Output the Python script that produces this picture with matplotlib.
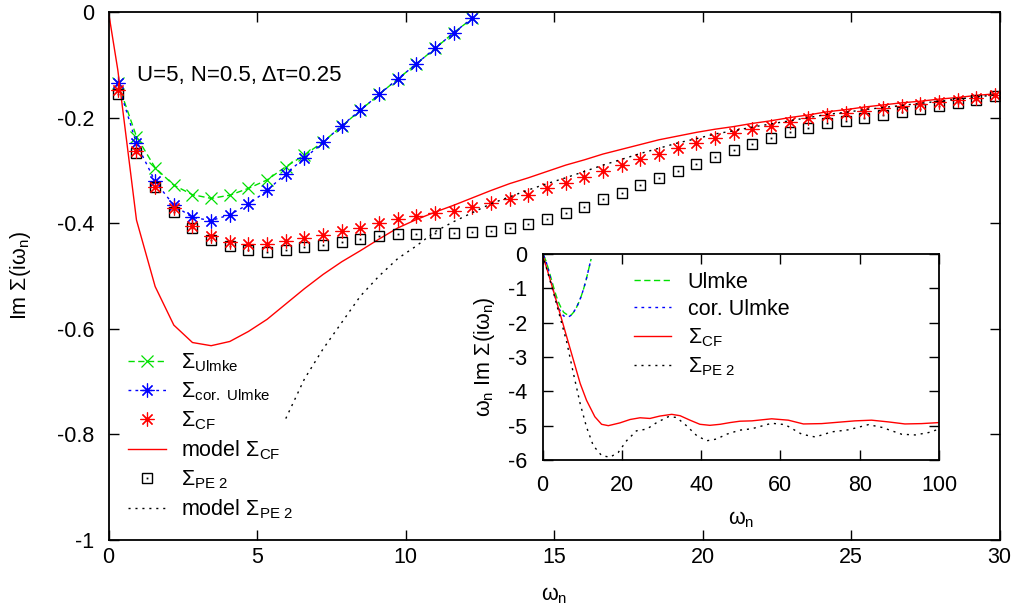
import matplotlib
matplotlib.use("Agg")
import numpy as np
import matplotlib.pyplot as plt
from matplotlib.legend_handler import HandlerTuple

plt.rcParams["font.family"] = ["Liberation Sans", "DejaVu Sans"]
plt.rcParams["mathtext.fontset"] = "custom"
plt.rcParams["mathtext.rm"] = "Liberation Sans"
plt.rcParams["mathtext.it"] = "Liberation Sans:italic"
plt.rcParams["mathtext.bf"] = "Liberation Sans:bold"
plt.rcParams["axes.unicode_minus"] = False

# ── Data ─────────────────────────────────────────────────────────────────────
# Matsubara frequencies, beta = 10
omega = [0.314, 0.942, 1.571, 2.199, 2.827, 3.456, 4.084, 4.712, 5.341, 5.969,
         6.597, 7.226, 7.854, 8.482, 9.111, 9.739, 10.367, 10.996, 11.624, 12.252,
         12.881, 13.509, 14.137, 14.765, 15.394, 16.022, 16.650, 17.279, 17.907, 18.535,
         19.164, 19.792, 20.420, 21.049, 21.677, 22.305, 22.934, 23.562, 24.190, 24.819,
         25.447, 26.075, 26.704, 27.332, 27.960, 28.588, 29.217, 29.845]

sigma_ulmke = [-0.134, -0.236, -0.295, -0.328, -0.346, -0.353, -0.347, -0.334, -0.318, -0.293,
               -0.271, -0.246, -0.216, -0.186, -0.156, -0.127, -0.098, -0.069, -0.039, -0.012]
sigma_cor_ulmke = [-0.135, -0.249, -0.321, -0.366, -0.389, -0.395, -0.384, -0.364, -0.338, -0.306,
                   -0.277, -0.247, -0.215, -0.186, -0.156, -0.127, -0.098, -0.069, -0.039, -0.012]

sigma_cf = [-0.148, -0.264, -0.331, -0.372, -0.405, -0.425, -0.435, -0.440, -0.440, -0.434,
            -0.428, -0.422, -0.415, -0.409, -0.400, -0.392, -0.387, -0.380, -0.376, -0.370,
            -0.362, -0.354, -0.346, -0.334, -0.323, -0.312, -0.301, -0.290, -0.279, -0.268,
            -0.258, -0.249, -0.239, -0.230, -0.222, -0.216, -0.208, -0.201, -0.195, -0.191,
            -0.187, -0.182, -0.178, -0.174, -0.170, -0.166, -0.162, -0.158]

sigma_pe2 = [-0.156, -0.267, -0.332, -0.378, -0.410, -0.431, -0.443, -0.450, -0.454, -0.451,
             -0.446, -0.441, -0.435, -0.430, -0.424, -0.420, -0.420, -0.419, -0.418, -0.416,
             -0.414, -0.410, -0.402, -0.392, -0.381, -0.369, -0.355, -0.342, -0.328, -0.314,
             -0.301, -0.288, -0.275, -0.261, -0.250, -0.239, -0.228, -0.219, -0.211, -0.206,
             -0.201, -0.195, -0.190, -0.184, -0.178, -0.172, -0.167, -0.160]

omega_model_cf = [0.0] + omega
model_cf = [0.0, -0.110, -0.394, -0.520, -0.593, -0.626, -0.632, -0.624, -0.605, -0.582,
            -0.553, -0.524, -0.497, -0.473, -0.452, -0.430, -0.409, -0.393, -0.379, -0.366,
            -0.352, -0.338, -0.325, -0.314, -0.302, -0.290, -0.280, -0.269, -0.260, -0.251,
            -0.242, -0.235, -0.228, -0.222, -0.217, -0.211, -0.206, -0.200, -0.195, -0.189,
            -0.185, -0.180, -0.176, -0.172, -0.169, -0.165, -0.162, -0.158, -0.155]

omega_model_pe2 = omega[9:]
model_pe2 = [-0.770, -0.695, -0.638, -0.588, -0.538, -0.500, -0.467, -0.443, -0.416, -0.397,
             -0.380, -0.363, -0.350, -0.337, -0.325, -0.314, -0.302, -0.290, -0.279, -0.268,
             -0.258, -0.248, -0.240, -0.231, -0.225, -0.218, -0.212, -0.206, -0.200, -0.194,
             -0.190, -0.185, -0.181, -0.177, -0.173, -0.169, -0.165, -0.161, -0.157]

# inset: omega_n * Im Sigma up to omega_n = 100
inset_w_cf = [0, 2.7, 4.4, 6.1, 7.8, 9.5, 11.1, 13.2, 14.9, 16.6, 19.5, 22.1, 24.6, 27.1,
              29.6, 32.6, 34.7, 37.2, 39.7, 42.2, 44.8, 47.3, 49.8, 52.8, 57.8, 62.0, 65.8,
              70.4, 74.6, 78.8, 83.0, 87.2, 91.4, 95.6, 100]
inset_cf = [0, -1.05, -1.73, -2.41, -3.09, -3.77, -4.26, -4.74, -4.96, -5.00, -4.92, -4.82,
            -4.77, -4.79, -4.72, -4.67, -4.71, -4.84, -4.96, -4.99, -4.96, -4.91, -4.87, -4.86,
            -4.80, -4.84, -4.95, -4.94, -4.90, -4.86, -4.84, -4.89, -4.95, -4.94, -4.91]
inset_w_pe2 = [0, 2.7, 4.4, 6.1, 7.8, 9.5, 11.1, 12.8, 14.9, 17.0, 19.1, 21.2, 23.7, 26.3,
               28.8, 31.7, 33.8, 36.3, 38.9, 41.4, 43.9, 46.4, 49.8, 52.8, 57.8, 61.2, 65.4,
               68.8, 73.0, 77.2, 82.2, 85.6, 90.6, 94.0, 97.4, 100]
inset_pe2 = [0, -1.10, -1.83, -2.56, -3.48, -4.36, -5.04, -5.58, -5.87, -5.92, -5.78, -5.44,
             -5.15, -5.10, -4.91, -4.74, -4.76, -5.00, -5.29, -5.44, -5.39, -5.25, -5.13, -5.09,
             -4.93, -4.97, -5.25, -5.33, -5.18, -5.12, -4.97, -5.05, -5.25, -5.27, -5.20, -5.10]

GREEN = "#00e000"
BLUE = "#0000ff"
RED = "#ff0000"
FS = 15.5
ASTER = (8, 2, 0)

# ── Figure ────────────────────────────────────────────────────────────────────
W, H = 1018, 616
fig = plt.figure(figsize=(W / 100, H / 100), dpi=100)
ax = fig.add_axes([108.5 / W, 1 - 540 / H, 891 / W, 528 / H])

def style_ax(a):
    a.tick_params(direction="in", length=7, width=1, top=True, right=True,
                  labelsize=FS)
    for sp in a.spines.values():
        sp.set_linewidth(1.3)

style_ax(ax)
ax.tick_params(axis="x", pad=5)
ax.tick_params(axis="y", pad=10)

h_ul, = ax.plot(omega[:20], sigma_ulmke, color=GREEN, lw=1, ls=(0, (4.5, 2.5)),
                marker="x", ms=9, mew=0.9)
h_cor, = ax.plot(omega[:20], sigma_cor_ulmke, color=BLUE, lw=1, ls=(0, (2, 3)),
                 marker=ASTER, ms=10, mew=0.85)
h_mcf, = ax.plot(omega_model_cf, model_cf, color=RED, lw=1)
sq, = ax.plot(omega, sigma_pe2, ls="none", marker="s", ms=7, mfc="none",
              mec="black", mew=1)
dot, = ax.plot(omega, sigma_pe2, ls="none", marker="s", ms=1.3, color="black", mew=0)
h_cf, = ax.plot(omega, sigma_cf, ls="none", marker=ASTER, ms=10, color=RED, mew=0.85)
h_mpe, = ax.plot(omega_model_pe2, model_pe2, color="black", lw=1, ls=(0, (1.5, 3.5)))

ax.set_xlim(0, 30)
ax.set_ylim(-1, 0)
ax.set_xticks([0, 5, 10, 15, 20, 25, 30])
ax.set_yticks([0, -0.2, -0.4, -0.6, -0.8, -1])
ax.set_yticklabels(["0", "-0.2", "-0.4", "-0.6", "-0.8", "-1"])
ax.set_xlabel("ω$_{\\mathrm{n}}$", fontsize=FS)
ax.xaxis.set_label_coords(0.5, -0.085)
ax.set_ylabel("Im Σ(iω$_{\\mathrm{n}}$)", fontsize=FS)
ax.yaxis.set_label_coords(-0.085, 0.5)

ax.text(0.032, 0.88, "U=5, N=0.5, Δτ=0.25", transform=ax.transAxes,
        fontsize=FS + 0.5, va="center", ha="left")

labels = ["Σ$_{\\mathrm{Ulmke}}$", "Σ$_{\\mathrm{cor.\\ Ulmke}}$", "Σ$_{\\mathrm{CF}}$",
          "model Σ$_{\\mathrm{CF}}$", "Σ$_{\\mathrm{PE\\ 2}}$", "model Σ$_{\\mathrm{PE\\ 2}}$"]
ax.legend([h_ul, h_cor, h_cf, h_mcf, (sq, dot), h_mpe], labels,
          handler_map={tuple: HandlerTuple(ndivide=1)},
          loc="upper left", bbox_to_anchor=(0.022, 0.357), frameon=False,
          fontsize=FS, handlelength=1.75, handletextpad=0.7, labelspacing=0.3,
          borderpad=0, borderaxespad=0)

# ── Inset ────────────────────────────────────────────────────────────────────
ins = fig.add_axes([542.5 / W, 1 - 460 / H, 396.5 / W, 206 / H])
style_ax(ins)
ins.tick_params(axis="both", pad=11)

w_short = np.array(omega[:20])
i_ul, = ins.plot(w_short, w_short * np.array(sigma_ulmke), color=GREEN, lw=1,
                 ls=(0, (4.5, 2.5)))
i_cor, = ins.plot(w_short, w_short * np.array(sigma_cor_ulmke), color=BLUE, lw=1,
                  ls=(0, (2, 3)))
i_cf, = ins.plot(inset_w_cf, inset_cf, color=RED, lw=1)
i_pe, = ins.plot(inset_w_pe2, inset_pe2, color="black", lw=1, ls=(0, (1.5, 3.5)))

ins.set_xlim(0, 100)
ins.set_ylim(-6, 0)
ins.set_xticks([0, 20, 40, 60, 80, 100])
ins.set_yticks([0, -1, -2, -3, -4, -5, -6])
ins.set_xlabel("ω$_{\\mathrm{n}}$", fontsize=FS)
ins.xaxis.set_label_coords(0.5, -0.24)
ins.set_ylabel("ω$_{\\mathrm{n}}$ Im Σ(iω$_{\\mathrm{n}}$)", fontsize=FS)
ins.yaxis.set_label_coords(-0.115, 0.5)
ins.legend([i_ul, i_cor, i_cf, i_pe],
           ["Ulmke", "cor. Ulmke", "Σ$_{\\mathrm{CF}}$", "Σ$_{\\mathrm{PE\\ 2}}$"],
           loc="upper left", bbox_to_anchor=(0.23, 0.915), frameon=False,
           fontsize=FS, handlelength=1.75, handletextpad=0.75, labelspacing=0.3,
           borderpad=0, borderaxespad=0)

fig.savefig("out.png", dpi=100)
